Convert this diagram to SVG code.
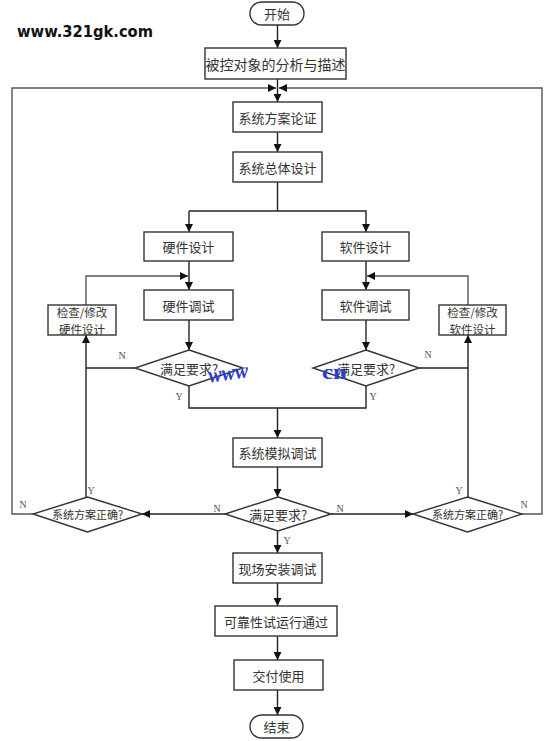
<svg xmlns="http://www.w3.org/2000/svg" width="554" height="741" viewBox="0 0 554 741">
<defs>
<marker id="ah" viewBox="0 0 10 10" refX="10" refY="5" markerWidth="8" markerHeight="8" markerUnits="userSpaceOnUse" orient="auto">
<path d="M0,0 L10,5 L0,10 z" fill="#111"/>
</marker>
<style>
.box{fill:#fff;stroke:#333;stroke-width:1.4}
.t{font-family:"Noto Sans CJK SC","Noto Sans",sans-serif;font-size:13px;fill:#333;text-anchor:middle;dominant-baseline:central}
.ts{font-size:11px}
.tb{font-size:14px}
.tc{font-size:11.5px}
.yn{font-family:"Liberation Serif",serif;font-size:10px;fill:#555;text-anchor:middle}
.ln{fill:none;stroke:#222;stroke-width:1.4}
.lg{fill:none;stroke:#555;stroke-width:1.4}
.ar{marker-end:url(#ah)}
.wm{font-family:"Liberation Serif",serif;font-weight:bold;fill:#2a3dcc}
</style>
</defs>
<rect width="554" height="741" fill="#fff"/>
<text x="17" y="36.5" font-family="'DejaVu Sans',sans-serif" font-weight="bold" font-size="15" fill="#111" textLength="136" lengthAdjust="spacingAndGlyphs">www.321gk.com</text>

<g id="connectors">
<path class="ln ar" d="M277.5,24 V48"/>
<path class="ln ar" d="M277.5,79 V102"/>
<path class="lg ar" d="M33,514 H12 V88 H276"/>
<path class="lg ar" d="M522,514 H542 V88 H279"/>
<path class="ln ar" d="M277.5,132 V152"/>
<path class="ln" d="M277.5,182 V211"/>
<path class="ln ar" d="M189,211 V232"/>
<path class="ln ar" d="M277.5,211 H366 V232"/>
<path class="ln" d="M277.5,211 H189"/>
<path class="ln ar" d="M189,261 V290"/>
<path class="ln ar" d="M366,261 V290"/>
<path class="ln ar" d="M189,320 V350"/>
<path class="ln ar" d="M366,320 V350"/>
<path class="lg ar" d="M86,305 V276 H188"/>
<path class="lg ar" d="M468,305 V276 H367"/>
<path class="ln" d="M135,368 H86"/>
<path class="ln" d="M419,368 H468"/>
<path class="ln ar" d="M86,497 V335"/>
<path class="ln ar" d="M468,497 V335"/>
<path class="ln" d="M189,386 V408 H366 V386"/>
<path class="ln ar" d="M277.5,408 V438"/>
<path class="ln ar" d="M277.5,467 V497"/>
<path class="ln ar" d="M225,514 H142"/>
<path class="ln ar" d="M331,514 H413"/>
<path class="ln ar" d="M277.5,531 V553"/>
<path class="ln ar" d="M277.5,583 V606"/>
<path class="ln ar" d="M277.5,636 V660"/>
<path class="ln ar" d="M277.5,690 V715"/>
<text class="yn" x="122" y="359">N</text>
<text class="yn" x="179" y="400">Y</text>
<text class="yn" x="428" y="358">N</text>
<text class="yn" x="373" y="400">Y</text>
<text class="yn" x="217" y="512">N</text>
<text class="yn" x="340" y="512">N</text>
<text class="yn" x="23" y="508">N</text>
<text class="yn" x="91" y="494">Y</text>
<text class="yn" x="459" y="494">Y</text>
<text class="yn" x="524" y="508">N</text>
<text class="yn" x="287" y="544">Y</text>
</g>

<g id="start"><rect class="box" x="250" y="2" width="54" height="23" rx="11.5"/><text class="t" x="277" y="13.5">开始</text></g>
<g id="analyze"><rect class="box" x="205" y="48" width="141" height="31"/><text class="t tb" x="275.5" y="63.5">被控对象的分析与描述</text></g>
<g id="scheme"><rect class="box" x="233" y="102" width="89" height="30"/><text class="t" x="277.5" y="117">系统方案论证</text></g>
<g id="overall"><rect class="box" x="233" y="152" width="89" height="30"/><text class="t" x="277.5" y="167">系统总体设计</text></g>
<g id="hwdesign"><rect class="box" x="144" y="232" width="89" height="29"/><text class="t" x="188.5" y="246.5">硬件设计</text></g>
<g id="swdesign"><rect class="box" x="322" y="232" width="87" height="29"/><text class="t" x="365.5" y="246.5">软件设计</text></g>
<g id="hwdebug"><rect class="box" x="144" y="290" width="89" height="30"/><text class="t" x="188.5" y="305">硬件调试</text></g>
<g id="swdebug"><rect class="box" x="322" y="290" width="87" height="30"/><text class="t" x="365.5" y="305">软件调试</text></g>
<g id="hwcheck"><rect class="box" x="48" y="305" width="68" height="30"/><text class="t tc" x="82" y="311.8">检查/修改</text><text class="t tc" x="82" y="328.5">硬件设计</text></g>
<g id="swcheck"><rect class="box" x="439" y="305" width="67" height="30"/><text class="t tc" x="472.5" y="311.8">检查/修改</text><text class="t tc" x="472.5" y="328.5">软件设计</text></g>
<g id="hwok"><polygon class="box" points="189,350 243,368 189,386 135,368"/><text class="t" x="189" y="368">满足要求?</text></g>
<g id="swok"><polygon class="box" points="366,350 419,368 366,386 313,368"/><text class="t" x="366" y="368">满足要求?</text></g>
<g id="simulate"><rect class="box" x="233" y="438" width="89" height="29"/><text class="t" x="277.5" y="452.5">系统模拟调试</text></g>
<g id="sysok"><polygon class="box" points="278,497 331,514 278,531 225,514"/><text class="t" x="278" y="514">满足要求?</text></g>
<g id="schemeokL"><polygon class="box" points="87.5,497 142,514 87.5,532 33,514"/><text class="t ts" x="87.5" y="514">系统方案正确?</text></g>
<g id="schemeokR"><polygon class="box" points="467.5,497 522,514 467.5,532 413,514"/><text class="t ts" x="467.5" y="514">系统方案正确?</text></g>
<g id="install"><rect class="box" x="233" y="553" width="89" height="30"/><text class="t" x="277.5" y="568">现场安装调试</text></g>
<g id="reliable"><rect class="box" x="215" y="606" width="122" height="30"/><text class="t" x="276" y="621">可靠性试运行通过</text></g>
<g id="deliver"><rect class="box" x="234" y="660" width="89" height="30"/><text class="t" x="278.5" y="675">交付使用</text></g>
<g id="end"><rect class="box" x="250" y="715" width="53" height="23" rx="11.5"/><text class="t" x="276.5" y="726.5">结束</text></g>

<text class="wm" x="208" y="380" font-size="22" font-style="italic" textLength="40" lengthAdjust="spacingAndGlyphs" transform="rotate(-8 228 372)">www</text>
<text class="wm" x="322" y="379" font-size="22" textLength="25" lengthAdjust="spacingAndGlyphs">cn</text>
</svg>
